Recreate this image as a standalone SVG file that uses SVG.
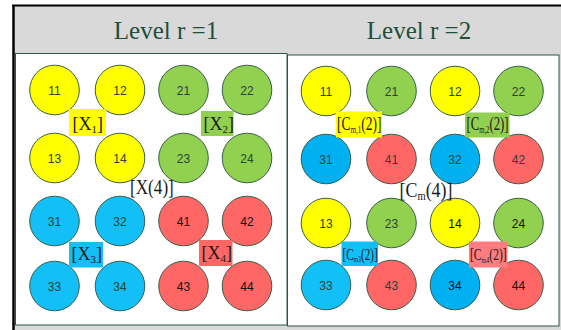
<svg xmlns="http://www.w3.org/2000/svg" width="561" height="330" viewBox="0 0 561 330">
<style>
.title{font-family:"Liberation Serif",serif;font-size:25px;fill:#1f4e3d;text-anchor:middle}
.panel{fill:#ffffff;stroke:#2f5544;stroke-width:1}
.c{stroke:#3a5f48;stroke-width:1}
.y{fill:#ffff00}.g{fill:#92d050}.b{fill:#12bff7}.bd{fill:#00b0f0}.r{fill:#ff6666}
.n{font-family:"Liberation Sans",Arial,sans-serif;font-size:12px;fill:#2a4434;text-anchor:middle}
.k{fill:#111111}
.lb{font-family:"Liberation Serif",serif;fill:#1a1a1a}
</style>
<rect x="13.5" y="5.5" width="548" height="325" fill="#d9d9d9"/>
<line x1="12" y1="5.5" x2="561" y2="5.5" stroke="#000" stroke-width="2"/>
<line x1="13.5" y1="5" x2="13.5" y2="330" stroke="#000" stroke-width="2.5"/>
<text class="title" x="166" y="39">Level r =1</text>
<text class="title" x="419" y="39">Level r =2</text>
<rect class="panel" x="15.5" y="53.5" width="271.5" height="271.5"/>
<rect class="panel" x="287.5" y="55" width="271.5" height="271"/>
<g id="connectors"/>
<!-- left panel nodes -->
<g id="L11"><circle class="c y" cx="54.5" cy="90" r="24.8"/><text class="n" x="54.5" y="94.5">11</text></g>
<g id="L12"><circle class="c y" cx="120" cy="90" r="24.8"/><text class="n" x="120" y="94.5">12</text></g>
<g id="L21"><circle class="c g" cx="183.5" cy="90" r="24.8"/><text class="n" x="183.5" y="94.5">21</text></g>
<g id="L22"><circle class="c g" cx="247" cy="90" r="24.8"/><text class="n" x="247" y="94.5">22</text></g>
<g id="L13"><circle class="c y" cx="54.5" cy="158" r="24.8"/><text class="n" x="54.5" y="162.5">13</text></g>
<g id="L14"><circle class="c y" cx="120" cy="158" r="24.8"/><text class="n" x="120" y="162.5">14</text></g>
<g id="L23"><circle class="c g" cx="183.5" cy="158" r="24.8"/><text class="n" x="183.5" y="162.5">23</text></g>
<g id="L24"><circle class="c g" cx="247" cy="158" r="24.8"/><text class="n" x="247" y="162.5">24</text></g>
<g id="L31"><circle class="c b" cx="54.5" cy="221" r="24.8"/><text class="n" x="54.5" y="225.5">31</text></g>
<g id="L32"><circle class="c b" cx="120" cy="221" r="24.8"/><text class="n" x="120" y="225.5">32</text></g>
<g id="L41"><circle class="c r" cx="183.5" cy="221" r="24.8"/><text class="n k" x="183.5" y="225.5">41</text></g>
<g id="L42"><circle class="c r" cx="247" cy="221" r="24.8"/><text class="n k" x="247" y="225.5">42</text></g>
<g id="L33"><circle class="c b" cx="54.5" cy="286" r="24.8"/><text class="n" x="54.5" y="290.5">33</text></g>
<g id="L34"><circle class="c b" cx="120" cy="286" r="24.8"/><text class="n" x="120" y="290.5">34</text></g>
<g id="L43"><circle class="c r" cx="183.5" cy="286" r="24.8"/><text class="n k" x="183.5" y="290.5">43</text></g>
<g id="L44"><circle class="c r" cx="247" cy="286" r="24.8"/><text class="n k" x="247" y="290.5">44</text></g>
<!-- left labels -->
<g id="X1"><rect x="69" y="109" width="37" height="27" fill="#ffff00"/><text class="lb" x="72.5" y="130" font-size="18">[X<tspan font-size="11" dy="3">1</tspan><tspan dy="-3">]</tspan></text></g>
<g id="X2"><rect x="201" y="111" width="32.5" height="25" fill="#92d050"/><text class="lb" x="203.5" y="130" font-size="18">[X<tspan font-size="11" dy="3">2</tspan><tspan dy="-3">]</tspan></text></g>
<g id="X3"><rect x="69" y="242" width="34" height="25.5" fill="#12bff7"/><text class="lb" x="71.5" y="259.5" font-size="18">[X<tspan font-size="11" dy="3">3</tspan><tspan dy="-3">]</tspan></text></g>
<g id="X4"><rect x="199" y="240" width="33.5" height="26" fill="#ff6666"/><text class="lb" x="201.5" y="259" font-size="18">[X<tspan font-size="11" dy="3">4</tspan><tspan dy="-3">]</tspan></text></g>
<g id="X4total"><text class="lb" transform="translate(130 194) scale(0.78 1)" font-size="22">[X(4)]</text></g>
<!-- right panel nodes -->
<g id="R11"><circle class="c y" cx="326" cy="91" r="24.8"/><text class="n" x="326" y="95.5">11</text></g>
<g id="R21"><circle class="c g" cx="391.5" cy="91" r="24.8"/><text class="n" x="391.5" y="95.5">21</text></g>
<g id="R12"><circle class="c y" cx="455" cy="91" r="24.8"/><text class="n" x="455" y="95.5">12</text></g>
<g id="R22"><circle class="c g" cx="518.5" cy="91" r="24.8"/><text class="n" x="518.5" y="95.5">22</text></g>
<g id="R31"><circle class="c bd" cx="326" cy="159" r="24.8"/><text class="n" x="326" y="163.5">31</text></g>
<g id="R41"><circle class="c r" cx="391.5" cy="159" r="24.8"/><text class="n" x="391.5" y="163.5">41</text></g>
<g id="R32"><circle class="c bd" cx="455" cy="159" r="24.8"/><text class="n" x="455" y="163.5">32</text></g>
<g id="R42"><circle class="c r" cx="518.5" cy="159" r="24.8"/><text class="n" x="518.5" y="163.5">42</text></g>
<g id="R13"><circle class="c y" cx="326" cy="223" r="24.8"/><text class="n" x="326" y="227.5">13</text></g>
<g id="R23"><circle class="c g" cx="391.5" cy="223" r="24.8"/><text class="n" x="391.5" y="227.5">23</text></g>
<g id="R14"><circle class="c y" cx="455" cy="223" r="24.8"/><text class="n k" x="455" y="227.5">14</text></g>
<g id="R24"><circle class="c g" cx="518.5" cy="223" r="24.8"/><text class="n k" x="518.5" y="227.5">24</text></g>
<g id="R33"><circle class="c b" cx="326" cy="285" r="24.8"/><text class="n" x="326" y="289.5">33</text></g>
<g id="R43"><circle class="c r" cx="391.5" cy="285" r="24.8"/><text class="n" x="391.5" y="289.5">43</text></g>
<g id="R34"><circle class="c bd" cx="455" cy="285" r="24.8"/><text class="n k" x="455" y="289.5">34</text></g>
<g id="R44"><circle class="c r" cx="518.5" cy="285" r="24.8"/><text class="n k" x="518.5" y="289.5">44</text></g>
<!-- right labels -->
<g id="Cm1"><rect x="336" y="111.5" width="46" height="26" fill="#ffff00"/><text class="lb" transform="translate(337 130) scale(0.71 1)" font-size="19">[C<tspan font-size="10" dy="3">m,1</tspan><tspan dy="-3">(2)]</tspan></text></g>
<g id="Cm2"><rect x="465" y="112.5" width="44.5" height="25" fill="#92d050"/><text class="lb" transform="translate(466.5 130) scale(0.67 1)" font-size="19">[C<tspan font-size="10" dy="3">m,2</tspan><tspan dy="-3">(2)]</tspan></text></g>
<g id="Cm3"><rect x="341.5" y="241.5" width="36.5" height="24.5" fill="#12bff7"/><text class="lb" transform="translate(342.5 259.5) scale(0.65 1)" font-size="17">[C<tspan font-size="9" dy="2.5">m3</tspan><tspan dy="-2.5">(2)]</tspan></text></g>
<g id="Cm4"><rect x="469" y="241.5" width="38.5" height="26" fill="#ff7c80"/><text class="lb" transform="translate(470 260) scale(0.68 1)" font-size="17">[C<tspan font-size="9" dy="2.5">m4</tspan><tspan dy="-2.5">(2)]</tspan></text></g>
<g id="Cm4total"><text class="lb" transform="translate(399.5 197) scale(0.815 1)" font-size="22">[C<tspan font-size="13" dy="3">m</tspan><tspan dy="-3">(4)]</tspan></text></g>
</svg>
